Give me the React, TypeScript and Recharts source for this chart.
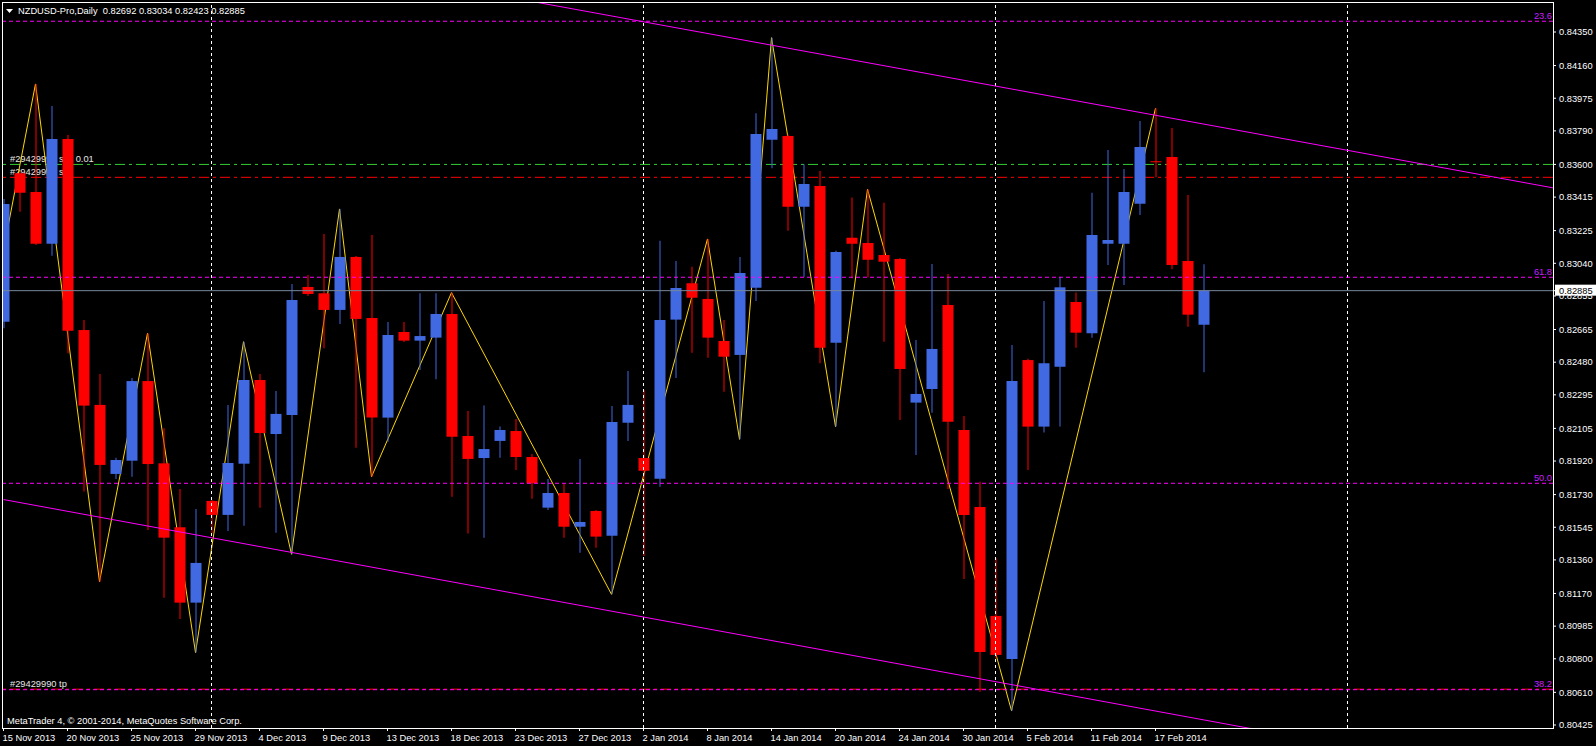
import { Bar, Cell, ComposedChart, Line, ReferenceLine, XAxis, YAxis } from 'recharts'

// NZDUSD daily, 15 Nov 2013 .. 20 Feb 2014
const dates = [
  '15 Nov 2013', '17 Nov 2013', '18 Nov 2013', '19 Nov 2013', '20 Nov 2013', '21 Nov 2013', '22 Nov 2013', '24 Nov 2013',
  '25 Nov 2013', '26 Nov 2013', '27 Nov 2013', '28 Nov 2013', '29 Nov 2013', '1 Dec 2013', '2 Dec 2013', '3 Dec 2013',
  '4 Dec 2013', '5 Dec 2013', '6 Dec 2013', '8 Dec 2013', '9 Dec 2013', '10 Dec 2013', '11 Dec 2013', '12 Dec 2013',
  '13 Dec 2013', '15 Dec 2013', '16 Dec 2013', '17 Dec 2013', '18 Dec 2013', '19 Dec 2013', '20 Dec 2013', '22 Dec 2013',
  '23 Dec 2013', '24 Dec 2013', '25 Dec 2013', '26 Dec 2013', '27 Dec 2013', '29 Dec 2013', '30 Dec 2013', '31 Dec 2013',
  '2 Jan 2014', '3 Jan 2014', '6 Jan 2014', '7 Jan 2014', '8 Jan 2014', '9 Jan 2014', '10 Jan 2014', '13 Jan 2014',
  '14 Jan 2014', '15 Jan 2014', '16 Jan 2014', '17 Jan 2014', '20 Jan 2014', '21 Jan 2014', '22 Jan 2014', '23 Jan 2014',
  '24 Jan 2014', '27 Jan 2014', '28 Jan 2014', '29 Jan 2014', '30 Jan 2014', '31 Jan 2014', '3 Feb 2014', '4 Feb 2014',
  '5 Feb 2014', '6 Feb 2014', '7 Feb 2014', '10 Feb 2014', '11 Feb 2014', '12 Feb 2014', '13 Feb 2014', '14 Feb 2014',
  '17 Feb 2014', '18 Feb 2014', '19 Feb 2014', '20 Feb 2014',
]

const opens = [
  0.82709, 0.8355, 0.83444, 0.83151, 0.83744, 0.82662, 0.82238, 0.81847, 0.81922, 0.82373, 0.81907, 0.81545, 0.81118,
  0.81694, 0.81615, 0.81905, 0.82379, 0.82073, 0.82181, 0.82906, 0.8287, 0.82776, 0.83076, 0.8273, 0.82166, 0.82651,
  0.82602, 0.82619, 0.82753, 0.82062, 0.81937, 0.82034, 0.8209, 0.81943, 0.81656, 0.81739, 0.81548, 0.81637, 0.81497,
  0.82137, 0.81937, 0.8182, 0.82721, 0.82927, 0.82838, 0.826, 0.82521, 0.82902, 0.8374, 0.83761, 0.83361, 0.83478,
  0.8259, 0.83185, 0.83155, 0.83087, 0.83064, 0.82251, 0.82328, 0.82804, 0.82096, 0.8166, 0.81043, 0.80799, 0.82492,
  0.82115, 0.82454, 0.82821, 0.82644, 0.83151, 0.83151, 0.83378, 0.83618, 0.83642, 0.83053, 0.82692,
]
const highs = [
  0.83404, 0.8356, 0.84056, 0.83931, 0.83767, 0.82719, 0.82413, 0.81939, 0.8239, 0.82644, 0.82106, 0.81762, 0.81649,
  0.817, 0.82238, 0.82596, 0.82413, 0.82317, 0.82923, 0.82974, 0.83206, 0.83348, 0.83081, 0.832, 0.82708, 0.82708,
  0.8287, 0.8287, 0.82874, 0.82204, 0.82234, 0.82115, 0.82158, 0.8196, 0.81818, 0.81794, 0.81932, 0.81643, 0.82232,
  0.8243, 0.82322, 0.83168, 0.83053, 0.83021, 0.83178, 0.82719, 0.83076, 0.8389, 0.84318, 0.8377, 0.83601, 0.83563,
  0.83111, 0.83412, 0.83459, 0.83383, 0.8307, 0.82606, 0.83036, 0.82979, 0.82175, 0.81803, 0.81369, 0.82577, 0.825,
  0.82827, 0.82964, 0.82874, 0.8344, 0.83682, 0.83574, 0.83846, 0.83918, 0.83806, 0.83427, 0.83034,
]
const lows = [
  0.82672, 0.83332, 0.83144, 0.83083, 0.8253, 0.81747, 0.81237, 0.81818, 0.81831, 0.8153, 0.81146, 0.81026, 0.80835,
  0.81511, 0.81524, 0.81554, 0.81656, 0.81514, 0.81392, 0.82855, 0.82559, 0.82696, 0.81996, 0.81831, 0.8203, 0.82594,
  0.82436, 0.82383, 0.81718, 0.81509, 0.81486, 0.81939, 0.81869, 0.81707, 0.81643, 0.81486, 0.81401, 0.81429, 0.81165,
  0.82034, 0.81382, 0.81775, 0.8239, 0.82534, 0.82505, 0.82313, 0.82043, 0.82827, 0.83578, 0.83225, 0.82964, 0.82474,
  0.82115, 0.82955, 0.82961, 0.82596, 0.82153, 0.81954, 0.82194, 0.81762, 0.81252, 0.80614, 0.80803, 0.80506, 0.81869,
  0.82081, 0.82115, 0.82562, 0.82619, 0.8303, 0.82917, 0.83314, 0.83527, 0.83006, 0.82681, 0.82423,
]
const closes = [
  0.83376, 0.8344, 0.83151, 0.83744, 0.82658, 0.82234, 0.81898, 0.81926, 0.82373, 0.81903, 0.81486, 0.81118, 0.81343,
  0.81615, 0.81909, 0.82379, 0.82079, 0.82187, 0.82832, 0.82866, 0.82776, 0.83076, 0.82725, 0.82166, 0.82634, 0.82602,
  0.82628, 0.82753, 0.82058, 0.81932, 0.81988, 0.82096, 0.81943, 0.81794, 0.81739, 0.81548, 0.81575, 0.81492, 0.82141,
  0.82238, 0.81865, 0.82719, 0.829, 0.82845, 0.82619, 0.82511, 0.82985, 0.83772, 0.83801, 0.83361, 0.83489, 0.82562,
  0.83104, 0.83151, 0.8306, 0.83049, 0.82441, 0.823, 0.82555, 0.82143, 0.81615, 0.80839, 0.80822, 0.82373, 0.82115,
  0.82474, 0.82904, 0.82647, 0.832, 0.83172, 0.83444, 0.83699, 0.83612, 0.8303, 0.82749, 0.82885,
]

// zigzag turning points (bar index, price)
const zigzagBars = [0, 2, 6, 9, 12, 15, 18, 21, 23, 28, 38, 44, 46, 48, 52, 54, 63, 72]
const zigzagPrices = [
  0.83115, 0.84056, 0.81237, 0.82644, 0.80835, 0.82596, 0.81392, 0.83348, 0.81831, 0.82874, 0.81165, 0.83178, 0.82043,
  0.84318, 0.82115, 0.83459, 0.80506, 0.83918,
]

const priceTicks = [
  0.8435, 0.8416, 0.83975, 0.8379, 0.836, 0.83415, 0.83225, 0.8304, 0.82855, 0.82665, 0.8248, 0.82295, 0.82105, 0.8192,
  0.8173, 0.81545, 0.8136, 0.8117, 0.80985, 0.808, 0.8061, 0.80425,
]
const lastPrice = 0.82885

const fibLabels = ['23.6', '61.8', '50.0', '38.2']
const fibPrices = [0.84411, 0.82961, 0.81794, 0.80625]

const orderLabels = ['#29429990 sell 0.01', '#29429990 sl', '#29429990 tp']
const orderPrices = [0.836, 0.83527, 0.80628]
const orderStrokes = ['#32cd32', '#ff0000', '#ff0000']

const upperTrendBars = [30, 97]
const upperTrendPrices = [0.845734, 0.834648]
const lowerTrendBars = [0, 80]
const lowerTrendPrices = [0.81702, 0.80371]

const separatorBars = [13, 40, 62, 84]

const SLOTS = 98 // candles plus the empty space right of the last one
const SHIFT = 20 // chart starts left of the page so the first candle is cut by the frame
const FONT = '"Liberation Sans", Arial, sans-serif'
const BULL = '#4169e1'
const BEAR = '#ff0000'
const MAGENTA = '#ff00ff'

const rows = Array.from({ length: SLOTS }, (_, i) => {
  if (i >= opens.length) return { i, wick: null, body: null, up: true, zz: null }
  const o = opens[i]
  const c = closes[i]
  const z = zigzagBars.indexOf(i)
  return {
    i,
    wick: [lows[i], highs[i]],
    body: [Math.min(o, c), Math.max(o, c)],
    up: c > o,
    zz: z >= 0 ? zigzagPrices[z] : null,
  }
})

const labelBars = dates.map((_, i) => i).filter((i) => i % 4 === 0)

const PriceTick = ({ x, y, payload }: any) => {
  const v = payload.value
  if (v === lastPrice) {
    return (
      <g>
        <rect x={x - 3} y={y - 6} width={44} height={11} fill="#fff" />
        <text x={x + 1} y={y + 3.3} fill="#000" fontSize={9.3} fontFamily={FONT}>
          {v.toFixed(5)}
        </text>
      </g>
    )
  }
  return (
    <text x={x + 1} y={y + 3.3} fill="#fff" fontSize={9.3} fontFamily={FONT}>
      {v.toFixed(5)}
    </text>
  )
}

const leftLabel = (text: string) => (props: any) => (
  <text x={SHIFT + 10} y={props.viewBox.y - 2.5} fill="#e6e6e6" fontSize={9.3} fontFamily={FONT}>
    {text}
  </text>
)

const rightLabel = (text: string) => (props: any) => (
  <text x={SHIFT + 1552} y={props.viewBox.y - 2.5} fill="#c81eff" fontSize={9.3} fontFamily={FONT} textAnchor="end">
    {text}
  </text>
)

export default function App() {
  return (
    <div style={{ position: 'absolute', left: 0, top: 0, width: 1596, height: 746, overflow: 'hidden', background: '#000' }}>
      <div style={{ position: 'absolute', left: -SHIFT, top: 0, width: 1596 + SHIFT, height: 746 }}>
        <ComposedChart
          width={1596 + SHIFT}
          height={746}
          data={rows}
          margin={{ top: 2, right: 0, bottom: 0, left: SHIFT - 4.5 }}
        >
          <XAxis
            xAxisId="w"
            dataKey="i"
            type="category"
            height={18}
            padding={{ left: 0, right: -10.5 }}
            ticks={labelBars}
            interval={0}
            tickFormatter={(v: number) => dates[v]}
            tick={{ fill: '#ffffff', fontSize: 9.3, fontFamily: FONT, textAnchor: 'start', dx: -1, dy: 1 }}
            tickSize={3}
            tickMargin={2}
            tickLine={{ stroke: '#ffffff' }}
            axisLine={false}
          />
          <XAxis xAxisId="b" dataKey="i" type="category" hide height={0} padding={{ left: 0, right: -10.5 }} />
          <YAxis
            orientation="right"
            width={43}
            type="number"
            domain={[0.80408, 0.8452]}
            allowDataOverflow
            ticks={[...priceTicks, lastPrice]}
            interval={0}
            tick={<PriceTick />}
            tickSize={3}
            tickLine={{ stroke: '#fff' }}
            axisLine={false}
          />

          {orderPrices.map((p, k) => (
            <ReferenceLine
              key={'o' + k}
              xAxisId="w"
              y={p}
              stroke={orderStrokes[k]}
              strokeDasharray="10 4 3 4"
              ifOverflow="hidden"
              zIndex={250}
              label={leftLabel(orderLabels[k])}
            />
          ))}

          <Line
            xAxisId="w"
            dataKey="zz"
            stroke="#ffd700"
            strokeWidth={1}
            dot={false}
            connectNulls
            zIndex={250}
            isAnimationActive={false}
          />

          <Bar xAxisId="w" dataKey="wick" barSize={1} isAnimationActive={false}>
            {rows.map((r) => (
              <Cell key={r.i} fill={r.up ? BULL : BEAR} />
            ))}
          </Bar>
          <Bar xAxisId="b" dataKey="body" barSize={11} isAnimationActive={false}>
            {rows.map((r) => (
              <Cell key={r.i} fill={r.up ? BULL : BEAR} />
            ))}
          </Bar>

          {separatorBars.map((b) => (
            <ReferenceLine key={'s' + b} xAxisId="w" x={b} stroke="#fff" strokeDasharray="3 3" ifOverflow="hidden" />
          ))}

          <ReferenceLine xAxisId="w" y={lastPrice} stroke="#778899" ifOverflow="hidden" />

          {fibPrices.map((p, k) => (
            <ReferenceLine
              key={'f' + k}
              xAxisId="w"
              y={p}
              stroke={MAGENTA}
              strokeDasharray="4 3"
              ifOverflow="hidden"
              label={rightLabel(fibLabels[k])}
            />
          ))}

          <ReferenceLine
            xAxisId="w"
            segment={[
              { x: upperTrendBars[0], y: upperTrendPrices[0] },
              { x: upperTrendBars[1], y: upperTrendPrices[1] },
            ]}
            stroke={MAGENTA}
            ifOverflow="hidden"
          />
          <ReferenceLine
            xAxisId="w"
            segment={[
              { x: lowerTrendBars[0], y: lowerTrendPrices[0] },
              { x: lowerTrendBars[1], y: lowerTrendPrices[1] },
            ]}
            stroke={MAGENTA}
            ifOverflow="hidden"
          />
        </ComposedChart>
      </div>

      <div style={{ position: 'absolute', left: 0, top: 0, width: 2, height: 728, background: '#000' }} />
      <div
        style={{
          position: 'absolute',
          left: 2,
          top: 2,
          width: 1552,
          height: 727,
          border: '1px solid #fff',
          boxSizing: 'border-box',
        }}
      />
      <svg style={{ position: 'absolute', left: 6, top: 9 }} width={7} height={4}>
        <polygon points="0,0 7,0 3.5,4" fill="#fff" />
      </svg>
      <div
        style={{
          position: 'absolute',
          left: 18,
          top: 5,
          lineHeight: '12px',
          fontSize: 9.3,
          fontFamily: FONT,
          color: '#fff',
          whiteSpace: 'pre',
        }}
      >
        {'NZDUSD-Pro,Daily  ' + [opens[75], highs[75], lows[75], closes[75]].map((v) => v.toFixed(5)).join(' ')}
      </div>
      <div
        style={{
          position: 'absolute',
          left: 7,
          top: 715,
          lineHeight: '12px',
          fontSize: 9.3,
          fontFamily: FONT,
          color: '#fff',
          whiteSpace: 'pre',
        }}
      >
        MetaTrader 4, © 2001-2014, MetaQuotes Software Corp.
      </div>
    </div>
  )
}
